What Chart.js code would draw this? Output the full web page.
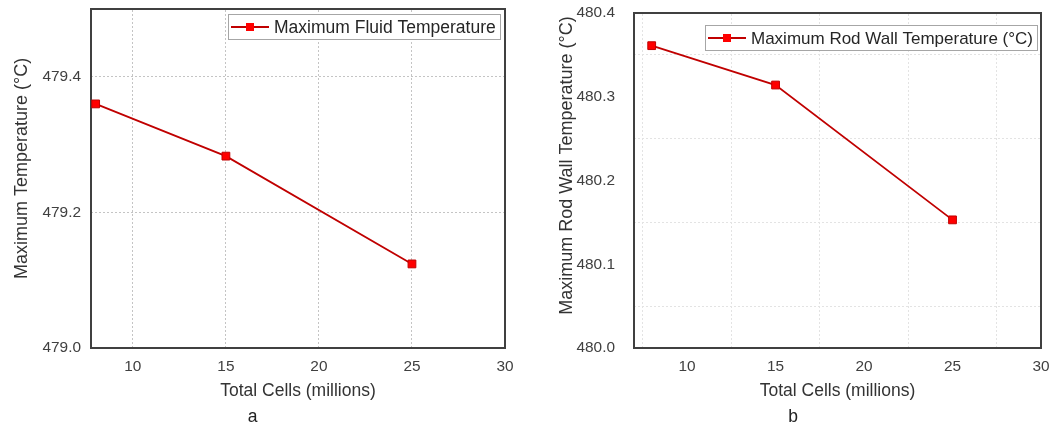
<!DOCTYPE html>
<html>
<head>
<meta charset="utf-8">
<script src="https://cdn.jsdelivr.net/npm/chart.js@4.4.1/dist/chart.umd.min.js"></script>
<style>
  html, body { margin: 0; background: #fff; }
  #wrap { position: relative; width: 1061px; height: 429px; }
  .panel { position: absolute; top: 0; height: 429px; }
  #panel-a { left: 0; width: 524px; }
  #panel-b { left: 545px; width: 516px; }
</style>
</head>
<body>
<div id="wrap">
  <div class="panel" id="panel-a"><canvas id="fluid-temp"></canvas></div>
  <div class="panel" id="panel-b"><canvas id="wall-temp"></canvas></div>
</div>
<script>
// mesh sizes (millions of cells) and peak temperatures per mesh
const cellCounts = [8, 15, 25];
const fluidTemps = [479.36, 479.283, 479.124];
const wallTemps = [480.361, 480.314, 480.153];

const xTicks = [10, 15, 20, 25, 30];
const fluidTicks = [479.0, 479.2, 479.4];
const wallTicks = [480.0, 480.1, 480.2, 480.3, 480.4];

// grid line positions
const fluidGridX = [10, 15, 20, 25];
const fluidGridY = [479.2, 479.4];
const wallGridX = [7.5, 12.5, 17.5, 22.5, 27.5];
const wallGridY = [480.05, 480.15, 480.25, 480.35];

const FONT = '"Liberation Sans", Arial, sans-serif';
const LINE_RED = "#c00000";
const MARK_RED = "#ff0000";
const FRAME = "#404040";

Chart.defaults.font.family = FONT;
Chart.defaults.color = "#404040";

const setTicks = (values) => (scale) => {
  scale.ticks = values.map((v) => ({ value: v }));
};

// framed legend drawn inside the plot, top-right
const boxLegend = {
  id: "boxLegend",
  afterDraw(chart, args, opts) {
    const { ctx, chartArea } = chart;
    const ds = chart.data.datasets[0];
    ctx.save();
    ctx.font = `${opts.fontSize}px ${FONT}`;
    const textW = ctx.measureText(ds.label).width;
    const w = Math.round(3 + 38 + 5 + textW + 4);
    const h = 25;
    const x0 = Math.round(chartArea.right - opts.right - w);
    const y0 = Math.round(chartArea.top + opts.top);
    ctx.fillStyle = "#fff";
    ctx.fillRect(x0, y0, w, h);
    ctx.strokeStyle = "#a6a6a6";
    ctx.lineWidth = 1;
    ctx.strokeRect(x0 + 0.5, y0 + 0.5, w, h);
    const cy = y0 + h / 2 + 0.5;
    ctx.strokeStyle = ds.borderColor;
    ctx.lineWidth = ds.borderWidth;
    ctx.beginPath();
    ctx.moveTo(x0 + 3, cy);
    ctx.lineTo(x0 + 41, cy);
    ctx.stroke();
    ctx.fillStyle = ds.pointBackgroundColor;
    ctx.fillRect(x0 + 18, cy - 4, 8, 8);
    ctx.fillStyle = "#262626";
    ctx.textBaseline = "middle";
    ctx.fillText(ds.label, x0 + 46, cy + 1);
    ctx.restore();
  },
};

const makePanel = (canvasId, cfg) => {
  const canvas = document.getElementById(canvasId);
  new Chart(canvas, {
    type: "line",
    data: {
      datasets: [{
        label: cfg.label,
        data: cellCounts.map((c, i) => ({ x: c, y: cfg.values[i] })),
        borderColor: LINE_RED,
        borderWidth: 1.8,
        pointStyle: "rect",
        pointRadius: 5.5,
        pointBackgroundColor: MARK_RED,
        pointBorderColor: LINE_RED,
        pointBorderWidth: 1,
        tension: 0,
      }],
    },
    plugins: [boxLegend],
    options: {
      responsive: true,
      maintainAspectRatio: false,
      animation: false,
      layout: { padding: cfg.padding },
      plugins: {
        legend: { display: false },
        tooltip: { enabled: false },
        title: {
          display: true,
          text: cfg.tag,
          position: "bottom",
          color: "#222",
          font: { size: 17.5, weight: "normal" },
          padding: { top: 0, bottom: 1.5 },
        },
        boxLegend: { fontSize: cfg.legendFont, right: cfg.legendRight, top: cfg.legendTop },
      },
      scales: {
        x: {
          type: "linear",
          min: cfg.xMin,
          max: 30,
          afterBuildTicks: setTicks(xTicks),
          afterFit: (s) => {
            s.height = 58.5;
            s.paddingLeft = 0;
            s.paddingRight = 0;
          },
          grid: { display: false, drawTicks: false },
          border: { display: true, color: FRAME, width: 2 },
          ticks: { font: { size: 15.4 }, padding: 10, callback: (v) => v },
          title: {
            display: true,
            text: "Total Cells (millions)",
            color: "#333",
            font: { size: 17.5 },
            padding: { top: 0, bottom: 5 },
          },
        },
        y: {
          type: "linear",
          min: cfg.yMin,
          max: cfg.yMax,
          afterBuildTicks: setTicks(cfg.yTicks),
          afterFit: (s) => {
            s.width = cfg.yWidth;
            s.paddingTop = 0;
            s.paddingBottom = 0;
          },
          grid: { display: false, drawTicks: false },
          border: { display: true, color: FRAME, width: 2 },
          ticks: { font: { size: 15.4 }, padding: cfg.yTickPad, callback: (v) => v.toFixed(1) },
          title: {
            display: true,
            text: cfg.yTitle,
            color: "#333",
            font: { size: 18 },
            padding: { top: 11, bottom: 0 },
          },
        },
        xg: {
          type: "linear",
          position: "top",
          min: cfg.xMin,
          max: 30,
          afterBuildTicks: setTicks(cfg.gridX),
          afterFit: (s) => { s.height = 0; },
          ticks: { display: false },
          grid: { color: cfg.gridColor, drawTicks: false },
          border: { display: true, color: FRAME, width: 2, dash: [2, 2] },
        },
        yg: {
          type: "linear",
          position: "right",
          min: cfg.yMin,
          max: cfg.yMax,
          afterBuildTicks: setTicks(cfg.gridY),
          afterFit: (s) => { s.width = 0; },
          ticks: { display: false },
          grid: { color: cfg.gridColor, drawTicks: false },
          border: { display: true, color: FRAME, width: 2, dash: [2, 2] },
        },
      },
    },
  });
};

makePanel("fluid-temp", {
  label: "Maximum Fluid Temperature",
  values: fluidTemps,
  tag: "a",
  xMin: 7.75,
  yMin: 479.0,
  yMax: 479.5,
  yTicks: fluidTicks,
  gridX: fluidGridX,
  gridY: fluidGridY,
  gridColor: "#c4c4c4",
  yTitle: "    Maximum Temperature (°C)",
  yWidth: 91,
  yTickPad: 10,
  padding: { top: 9, left: 0, right: 19, bottom: 0 },
  legendFont: 17.5,
  legendRight: 5,
  legendTop: 5,
});

makePanel("wall-temp", {
  label: "Maximum Rod Wall Temperature (°C)",
  values: wallTemps,
  tag: "b",
  xMin: 7,
  yMin: 480.0,
  yMax: 480.4,
  yTicks: wallTicks,
  gridX: wallGridX,
  gridY: wallGridY,
  gridColor: "#e3e3e3",
  yTitle: "      Maximum Rod Wall Temperature (°C)",
  yWidth: 89,
  yTickPad: 19,
  padding: { top: 13, left: 0, right: 20, bottom: 0 },
  legendFont: 17,
  legendRight: 4,
  legendTop: 12,
});
</script>
</body>
</html>
